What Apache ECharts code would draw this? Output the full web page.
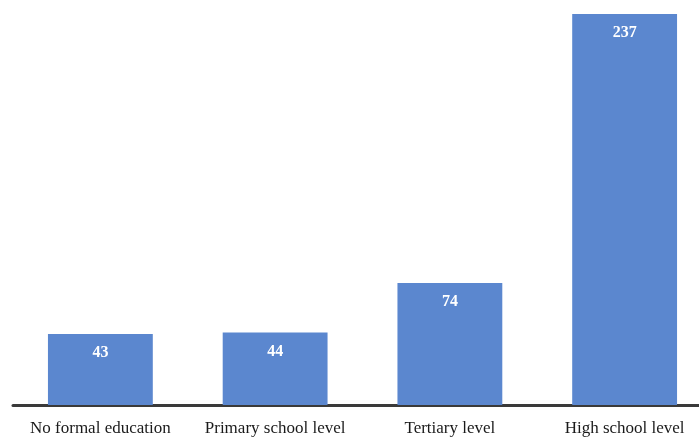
<!DOCTYPE html>
<html>
<head>
<meta charset="utf-8">
<script src="https://cdn.jsdelivr.net/npm/echarts@6/dist/echarts.min.js"></script>
<style>
  html, body { margin: 0; padding: 0; background: #ffffff; overflow: hidden; width: 699px; height: 437px; }
  #chart { position: absolute; left: 0; top: 0; width: 725px; height: 437px; }
</style>
</head>
<body>
<div id="chart"></div>
<script>
// Education level categories and respondent counts
const categories = ['No formal education', 'Primary school level', 'Tertiary level', 'High school level'];
const counts = [43, 44, 74, 237];

const chart = echarts.init(document.getElementById('chart'), null, { renderer: 'canvas' });

chart.setOption({
  animation: false,
  grid: { left: 13, right: 13, top: 9, bottom: 29 },
  xAxis: {
    type: 'category',
    data: categories,
    axisTick: { show: false },
    axisLine: { show: true, lineStyle: { color: '#3a3a3a', width: 3 } },
    axisLabel: {
      margin: 15,
      fontFamily: 'Liberation Serif',
      fontSize: 17,
      color: '#1a1a1a',
      interval: 0
    }
  },
  yAxis: {
    type: 'value',
    min: 0,
    max: 240,
    show: false,
    splitLine: { show: false }
  },
  series: [{
    type: 'bar',
    data: counts,
    barWidth: '60%',
    itemStyle: { color: '#5b87cf' },
    label: {
      show: true,
      position: 'insideTop',
      distance: 11,
      color: '#ffffff',
      fontFamily: 'Liberation Serif',
      fontWeight: 'bold',
      fontSize: 16
    }
  }]
});
</script>
</body>
</html>
